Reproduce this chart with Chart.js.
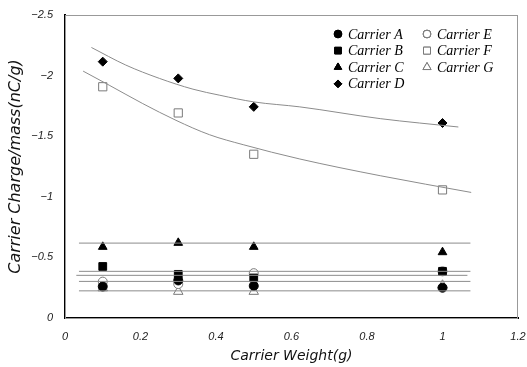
<!DOCTYPE html>
<html lang="en">
<head>
  <meta charset="UTF-8" />
  <title>Carrier charge vs weight</title>
  <script src="https://cdn.jsdelivr.net/npm/chart.js"></script>
  <style>
    html, body { margin: 0; padding: 0; background: #fff; }
    .wrap { width: 527px; height: 367px; position: relative; }
  </style>
</head>
<body>
  <div class="wrap">
    <canvas id="grafico"></canvas>
  </div>

  <script>
    // measured points (x = carrier weight in g, y = charge/mass in nC/g)
    const carrierWeight = [0.1, 0.3, 0.5, 1.0];
    const carrierA = [-0.26, -0.31, -0.265, -0.25];
    const carrierB = [-0.425, -0.36, -0.33, -0.385];
    const carrierC = [-0.587, -0.62, -0.587, -0.543];
    const carrierD = [-2.115, -1.977, -1.742, -1.609];
    const carrierE = [-0.30, -0.28, -0.37, -0.385];
    const carrierF = [-1.908, -1.692, -1.351, -1.057];
    const carrierG = [-0.247, -0.218, -0.218, -0.27];

    // trend lines
    const trendDx = [0.07, 0.161, 0.25, 0.339, 0.41, 0.5, 0.622, 0.835, 1.042];
    const trendDy = [-2.232, -2.087, -1.977, -1.888, -1.838, -1.783, -1.742, -1.645, -1.576];
    const trendFx = [0.048, 0.117, 0.206, 0.294, 0.383, 0.472, 0.622, 0.835, 1.076];
    const trendFy = [-2.037, -1.921, -1.769, -1.631, -1.512, -1.43, -1.312, -1.174, -1.036];
    const flatX = [0.037, 1.074];
    const flatXE = [0.03, 1.066];
    const flatC = -0.618;
    const flatB = -0.385;
    const flatE = -0.352;
    const flatA = -0.302;
    const flatG = -0.224;

    const xTicks = [0, 0.2, 0.4, 0.6, 0.8, 1, 1.2];
    const yTicks = [0, -0.5, -1, -1.5, -2, -2.5];

    const cinza = '#8c8c8c';
    const pts = ys => carrierWeight.map((x, i) => ({ x: x, y: ys[i] }));
    const curva = (xs, ys) => xs.map((x, i) => ({ x: x, y: ys[i] }));
    const reta = (xs, v) => xs.map(x => ({ x: x, y: v }));

    function linha(data, smooth) {
      return {
        type: 'line',
        data: data,
        borderColor: cinza,
        borderWidth: 1,
        pointRadius: 0,
        fill: false,
        tension: smooth ? 0.4 : 0,
        cubicInterpolationMode: smooth ? 'monotone' : 'default',
        legenda: false
      };
    }

    function serie(label, ys, style, r, cheio) {
      return {
        type: 'scatter',
        label: label,
        data: pts(ys),
        pointStyle: style,
        pointRadius: r,
        pointHoverRadius: r,
        pointBackgroundColor: cheio ? '#000' : '#fff',
        pointBorderColor: cheio ? '#000' : '#7a7a7a',
        pointBorderWidth: 1,
        legenda: true
      };
    }

    const datasets = [
      linha(curva(trendDx, trendDy), true),
      linha(curva(trendFx, trendFy), true),
      linha(reta(flatX, flatC)),
      linha(reta(flatX, flatB)),
      linha(reta(flatXE, flatE)),
      linha(reta(flatX, flatA)),
      linha(reta(flatX, flatG)),
      serie('Carrier A', carrierA, 'circle', 4.5, true),
      serie('Carrier B', carrierB, 'rect', 5.5, true),
      serie('Carrier C', carrierC, 'triangle', 5, true),
      serie('Carrier D', carrierD, 'rectRot', 4.5, true),
      serie('Carrier E', carrierE, 'circle', 4.5, false),
      serie('Carrier F', carrierF, 'rect', 5.8, false),
      serie('Carrier G', carrierG, 'triangle', 5.5, false)
    ];

    // grey frame around the plot area (top/right edges)
    const moldura = {
      id: 'moldura',
      beforeDatasetsDraw(chart) {
        const { ctx, chartArea: a } = chart;
        ctx.save();
        ctx.strokeStyle = '#999';
        ctx.lineWidth = 1;
        ctx.strokeRect(a.left + 0.5, a.top + 0.5, a.right - a.left - 1, a.bottom - a.top);
        ctx.restore();
      }
    };

    // two-column legend inside the plot
    const legenda = {
      id: 'legenda',
      afterDraw(chart) {
        const ctx = chart.ctx;
        const itens = chart.data.datasets.filter(d => d.legenda);
        ctx.save();
        ctx.font = 'italic 14px "Liberation Serif", serif';
        ctx.textBaseline = 'middle';
        ctx.fillStyle = '#000';
        itens.forEach((d, i) => {
          const col = i < 4 ? 0 : 1;
          const row = i < 4 ? i : i - 4;
          const mx = col ? 427 : 338;
          const y = 34 + row * 16.6;
          Chart.helpers.drawPoint(ctx, {
            pointStyle: d.pointStyle,
            radius: d.pointRadius * 0.85,
            rotation: 0,
            borderWidth: 1
          }, mx, y);
          ctx.fillStyle = d.pointBackgroundColor;
          ctx.strokeStyle = d.pointBorderColor;
          ctx.fill();
          ctx.stroke();
          ctx.fillStyle = '#000';
          ctx.fillText(d.label, mx + 10, y + 1);
        });
        ctx.restore();
      }
    };

    const fmt = v => String(Number(v.toFixed(1))).replace('-', '\u2212');
    const fonteEixo = '"DejaVu Sans", sans-serif';

    new Chart(document.getElementById('grafico'), {
      data: { datasets: datasets },
      plugins: [moldura, legenda],
      options: {
        responsive: true,
        maintainAspectRatio: false,
        animation: false,
        layout: { padding: { top: 15, right: 9, left: 0, bottom: 0 } },
        plugins: {
          legend: { display: false },
          tooltip: { enabled: false }
        },
        scales: {
          x: {
            type: 'linear',
            min: xTicks[0],
            max: xTicks[xTicks.length - 1],
            afterFit: s => { s.height = 49; s.paddingLeft = 0; s.paddingRight = 0; },
            afterBuildTicks: s => { s.ticks = xTicks.map(v => ({ value: v })); },
            grid: { display: false, drawTicks: false },
            border: { display: true, color: '#000', width: 2 },
            ticks: {
              padding: 12,
              color: '#222',
              font: { family: '"Liberation Sans", Arial, sans-serif', size: 11, style: 'italic' },
              callback: fmt
            },
            title: {
              display: true,
              text: 'Carrier Weight(g)',
              color: '#111',
              padding: { top: 4, bottom: 2 },
              font: { family: fonteEixo, size: 14, style: 'italic' }
            }
          },
          y: {
            type: 'linear',
            reverse: true,
            min: yTicks[yTicks.length - 1],
            max: yTicks[0],
            afterFit: s => { s.width = 65; s.paddingTop = 0; s.paddingBottom = 0; },
            afterBuildTicks: s => { s.ticks = yTicks.map(v => ({ value: v })); },
            grid: { display: false, drawTicks: false },
            border: { display: true, color: '#000', width: 2 },
            ticks: {
              padding: 12,
              color: '#222',
              font: { family: '"Liberation Sans", Arial, sans-serif', size: 11, style: 'italic' },
              callback: fmt
            },
            title: {
              display: true,
              text: 'Carrier Charge/mass(nC/g)',
              color: '#111',
              padding: { top: 6, bottom: 4 },
              font: { family: fonteEixo, size: 16, style: 'italic' }
            }
          }
        }
      }
    });
  </script>
</body>
</html>
